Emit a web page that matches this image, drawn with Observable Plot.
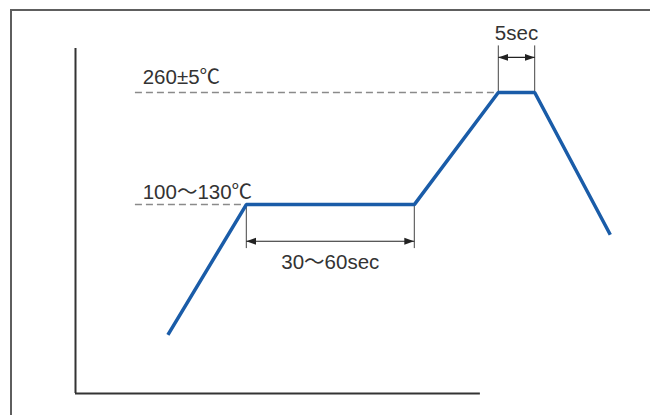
<!DOCTYPE html>
<html>
<head>
<meta charset="utf-8">
<script src="https://cdn.jsdelivr.net/npm/d3@7"></script>
<script src="https://cdn.jsdelivr.net/npm/@observablehq/plot@0.6"></script>
<style>
  html, body { margin: 0; padding: 0; background: #fff; overflow: hidden; }
  #wrap { position: relative; width: 650px; height: 415px; overflow: hidden; }
  #frame { position: absolute; left: 10px; top: 9px; width: 700px; height: 500px; border: 2px solid #5e5e5e; box-sizing: border-box; }
  #chart { position: absolute; left: 0; top: 0; }
</style>
</head>
<body>
<div id="wrap"><div id="frame"></div><div id="chart"></div></div>
<script>
// Reflow temperature profile (schematic): time units vs temperature °C
const times = [33, 61, 121, 151, 164, 191];
const temps = [-21, 130, 130, 260, 260, 95];

// Reference levels (dashed guides) and their labels
const levelTemps = [260, 130];
const levelEnds = [151, 61];
const levelLabels = ["260±5℃", "100〜130℃"];

// Duration dimensions
const spanStarts = [61, 151];
const spanEnds = [121, 164];
const spanBase = [130, 260];     // temperature where extension lines start
const spanTip = [79, 314];       // temperature where extension lines end
const spanArrowAt = [87.5, 300.6];
const spanLabels = ["30〜60sec", "5sec"];
const spanLabelAt = [55.8, 320.3];

// Axis extents
const xAxisEnd = 144.6;
const yDomain = [-89, 311];
const xDomain = [0, 200];

const profile = times.map((t, i) => ({t, temp: temps[i]}));
const levels = levelTemps.map((v, i) => ({v, end: levelEnds[i], label: levelLabels[i]}));
const spans = spanStarts.map((s, i) => ({
  s, e: spanEnds[i], base: spanBase[i], tip: spanTip[i], at: spanArrowAt[i],
  label: spanLabels[i], labelAt: spanLabelAt[i], mid: (s + spanEnds[i]) / 2
}));
const extLines = spans.flatMap(d => [{x: d.s, y1: d.base, y2: d.tip}, {x: d.e, y1: d.base, y2: d.tip}]);

const font = "'Liberation Sans', Arial, 'Noto Sans CJK JP', sans-serif";

const plot = Plot.plot({
  width: 650,
  height: 415,
  marginLeft: 75,
  marginRight: 15,
  marginTop: 48,
  marginBottom: 22,
  x: {domain: xDomain, axis: null},
  y: {domain: yDomain, axis: null},
  style: {fontFamily: font, background: "transparent"},
  marks: [
    // axes
    Plot.ruleX([0], {y1: yDomain[0], y2: yDomain[1], stroke: "#333", strokeWidth: 2}),
    Plot.ruleY([yDomain[0]], {x1: 0, x2: xAxisEnd, stroke: "#333", strokeWidth: 2}),
    // dashed guides
    Plot.ruleY(levels, {y: "v", x1: 21.4, x2: "end", stroke: "#8a8a8a", strokeWidth: 1.5, strokeDasharray: "7,4"}),
    // extension lines
    Plot.ruleX(extLines, {x: "x", y1: "y1", y2: "y2", stroke: "#444", strokeWidth: 1}),
    // dimension arrows
    Plot.link(spans, {x1: "s", x2: "e", y1: "at", y2: "at", stroke: "#222", strokeWidth: 1.2}),
    // profile
    Plot.line(profile, {x: "t", y: "temp", stroke: "#1a5ca8", strokeWidth: 3.5, strokeLinejoin: "miter", strokeLinecap: "butt"}),
    // labels
    Plot.text(levels, {x: 24, y: d => d.v + (d.v > 200 ? 9.3 : 7), text: "label", textAnchor: "start", lineAnchor: "bottom", fontSize: 20.5, fill: "#333"}),
    Plot.text(spans, {x: "mid", y: "labelAt", text: "label", textAnchor: "middle", lineAnchor: "bottom", fontSize: 20.5, fill: "#333"})
  ]
});

// filled arrowheads on dimension arrows
const svg = d3.select(plot);
const defs = svg.insert("defs", ":first-child");
defs.append("marker")
  .attr("id", "ah")
  .attr("viewBox", "0 -4 10 8")
  .attr("refX", 10).attr("refY", 0)
  .attr("markerWidth", 10).attr("markerHeight", 8)
  .attr("markerUnits", "userSpaceOnUse")
  .attr("orient", "auto-start-reverse")
  .append("path").attr("d", "M0,-3.5L10,0L0,3.5Z").attr("fill", "#222");
svg.selectAll("g[aria-label='link'] path, path[aria-label='link']")
  .attr("marker-start", "url(#ah)")
  .attr("marker-end", "url(#ah)");

document.getElementById("chart").appendChild(plot);
</script>
</body>
</html>
